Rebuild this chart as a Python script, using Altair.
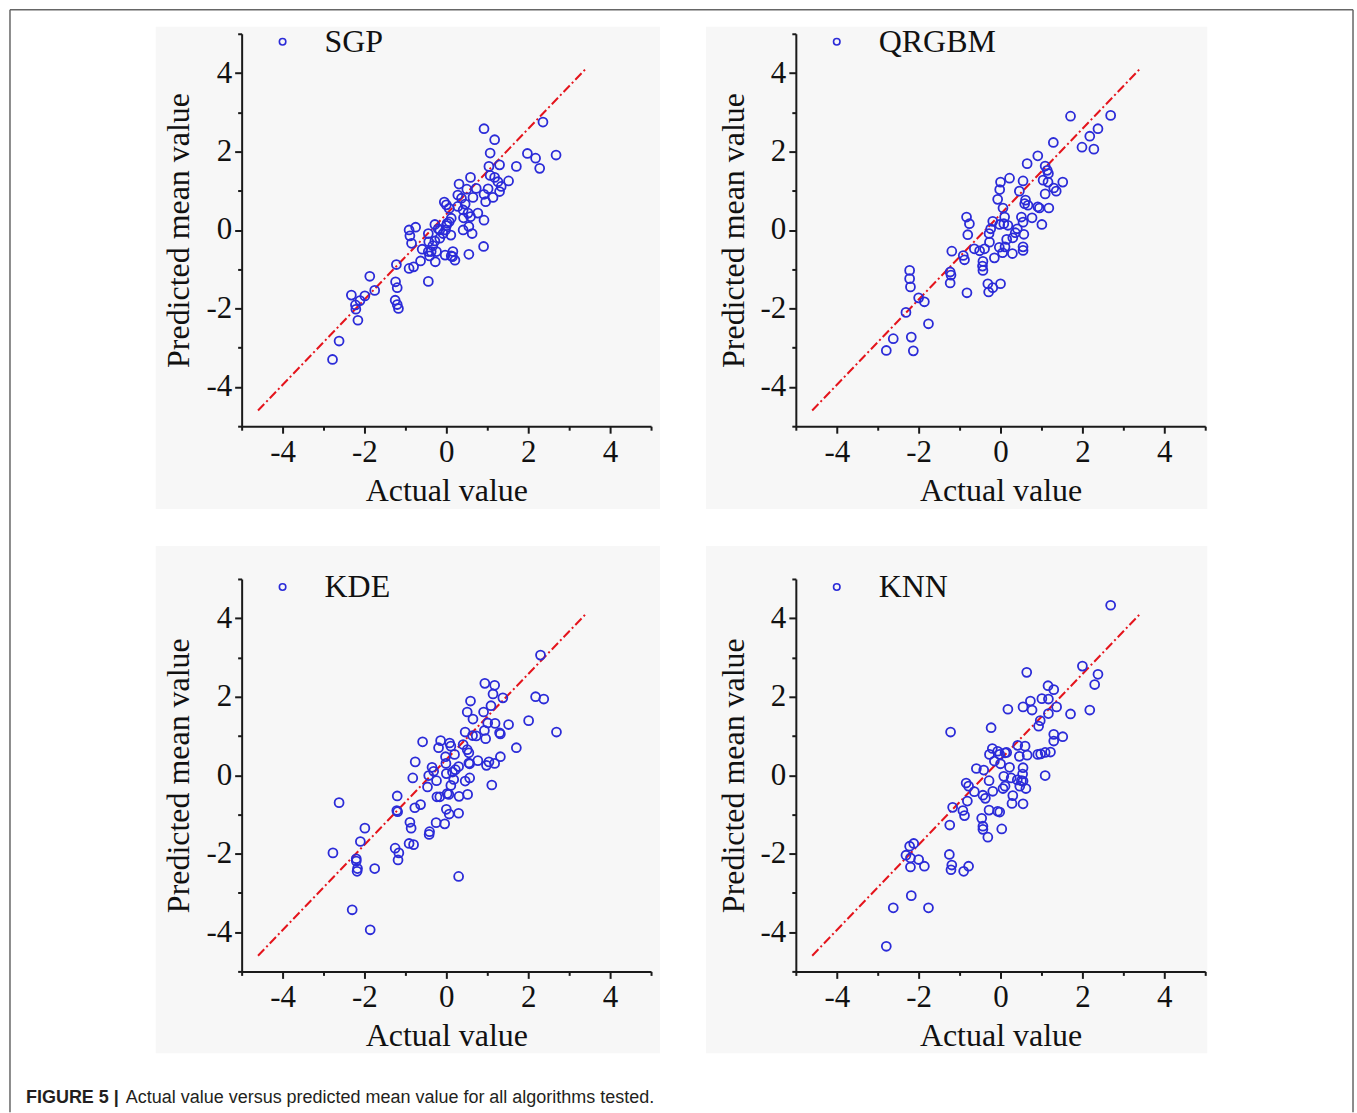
import altair as alt
import pandas as pd

# ---------------- data ----------------
SGP_X = [-2.78, -2.62, -2.16, -2.32, -2.22, -2.21, -2.11, -1.99, -1.87, -1.75,
         -1.22, -1.24, -1.20, -1.25, -1.20, -1.17, -0.91, -0.89, -0.75, -0.85,
         -0.91, -0.80, -0.63, -0.59, -0.44, -0.44, -0.43, -0.44, -0.37, -0.33,
         -0.28, -0.27, -0.24, -0.20, -0.16, -0.08, -0.03, -0.05, 0.00, 0.02,
         0.07, 0.11, 0.12, 0.16, 0.15, 0.21, 0.07, 0.28, 0.31, 0.28,
         0.37, 0.41, 0.42, 0.41, 0.46, 0.50, 0.53, 0.55, 0.55, 0.59,
         0.59, 0.63, 0.65, 0.73, 0.77, 0.92, 0.92, 0.96, 0.92, 0.91,
         1.02, 1.04, 1.07, 1.07, 1.14, 1.18, 1.18, 1.26, 1.30, 1.30,
         1.34, 1.52, 1.71, 1.98, 2.18, 2.28, 2.36, 2.68, 0.00, -0.02,
         -0.16, -0.28, -0.41, 0.12]
SGP_Y = [-3.30, -2.83, -2.30, -1.66, -1.91, -2.02, -1.80, -1.68, -1.18, -1.54,
         -0.88, -1.32, -1.47, -1.79, -1.90, -2.00, 0.00, -0.15, 0.07, -0.34,
         -0.98, -0.94, -0.79, -0.49, -1.31, -0.09, -0.30, -0.55, -0.55, -0.40,
         0.14, -0.81, -0.55, 0.03, -0.21, -0.09, -0.64, 0.71, 0.64, 0.17,
         0.21, -0.13, 0.30, -0.55, -0.68, -0.77, 0.55, 0.60, 1.17, 0.89,
         0.81, 0.51, 0.31, 0.00, 0.66, 1.04, 0.43, 0.09, -0.62, 1.34,
         0.34, -0.09, 0.83, 1.06, 0.43, 2.58, 0.91, 0.72, 0.25, -0.42,
         1.05, 1.62, 1.96, 1.39, 0.83, 2.30, 1.34, 1.23, 1.66, 0.98,
         1.11, 1.25, 1.62, 1.95, 1.83, 1.57, 2.75, 1.91, 0.11, 0.00,
         0.00, -0.28, -0.66, -0.66]

QRGBM_X = [1.71, 2.69, 2.38, 2.18, 1.99, 2.28, 1.29, 0.91, 0.65, 1.09,
           1.14, 1.17, 1.04, 1.16, 1.52, 1.30, 1.36, 1.09, 0.22, 0.00,
           0.55, -0.02, 0.46, -0.07, 0.61, 0.59, 0.67, 0.91, 0.95, 1.18,
           0.06, 0.77, 1.01, 0.51, 0.55, 0.10, 0.08, 0.18, -0.02, -0.19,
           -0.24, -0.28, 0.41, 0.36, 0.57, 0.30, 0.15, -0.03, 0.11, 0.55,
           0.55, 0.29, 0.05, -0.15, -0.27, -0.64, -0.51, -0.39, -0.43, -0.44,
           -0.43, -0.91, -0.88, -0.83, -0.76, -0.80, -1.19, -1.23, -1.21, -1.23,
           -0.82, -0.31, -0.29, -0.19, 0.00, -2.22, -2.22, -2.20, -2.00, -1.86,
           -2.31, -1.76, -2.62, -2.18, -2.79, -2.13]
QRGBM_Y = [2.90, 2.92, 2.58, 2.39, 2.11, 2.06, 2.23, 1.89, 1.69, 1.63,
           1.52, 1.44, 1.27, 1.22, 1.22, 1.07, 0.99, 0.92, 1.32, 1.22,
           1.25, 1.03, 0.99, 0.78, 0.76, 0.67, 0.63, 0.59, 0.56, 0.56,
           0.56, 0.31, 0.14, 0.33, 0.20, 0.33, 0.16, 0.12, 0.14, 0.22,
           0.03, -0.09, 0.03, -0.07, -0.11, -0.20, -0.24, -0.44, -0.43, -0.43,
           -0.52, -0.60, -0.58, -0.71, -0.31, -0.48, -0.53, -0.48, -0.80, -0.92,
           -1.03, -0.65, -0.76, 0.33, 0.16, -0.12, -0.54, -1.07, -1.15, -1.35,
           -1.60, -1.37, -1.58, -1.47, -1.37, -1.03, -1.24, -1.45, -1.73, -1.83,
           -2.10, -2.39, -2.77, -2.73, -3.07, -3.08]

KDE_X = [2.30, 0.94, 1.18, 1.14, 1.38, 2.18, 2.38, 0.59, 1.09, 0.51,
         0.91, 0.65, 1.01, 1.19, 1.52, 2.01, 2.69, 0.46, 0.64, 0.73,
         0.93, 0.96, 1.30, 1.32, 1.71, -0.58, -0.14, 0.08, 0.11, -0.19,
         0.41, 0.51, 0.55, 0.20, -0.02, -0.76, 0.77, 0.55, 0.57, 1.04,
         1.18, 0.98, 1.32, -0.35, -0.31, -0.43, -0.01, 0.30, 0.22, 0.15,
         0.00, -0.82, -0.46, -0.24, 0.18, 0.11, 0.57, 0.46, 1.11, -0.23,
         -0.16, 0.02, 0.06, 0.31, 0.52, -1.20, -1.21, -1.19, -0.63, -0.77,
         0.00, 0.07, 0.30, -0.25, -0.04, -0.89, -0.86, -0.41, -0.42, -0.91,
         -0.80, -1.25, -1.16, -1.18, -2.62, -1.99, -2.10, -2.77, -2.20, -2.20,
         -2.17, -2.18, -1.75, 0.30, -2.30, -1.86]
KDE_Y = [3.06, 2.34, 2.29, 2.07, 1.97, 2.00, 1.94, 1.89, 1.77, 1.61,
         1.61, 1.43, 1.33, 1.32, 1.29, 1.39, 1.10, 1.10, 1.01, 1.00,
         1.14, 0.93, 1.08, 1.05, 0.70, 0.85, 0.88, 0.82, 0.74, 0.70,
         0.78, 0.65, 0.57, 0.53, 0.47, 0.34, 0.37, 0.31, 0.29, 0.34,
         0.30, 0.25, 0.47, 0.20, 0.10, -0.01, 0.30, 0.22, 0.14, 0.08,
         0.04, -0.07, -0.30, -0.14, -0.11, -0.26, -0.07, -0.15, -0.25, -0.55,
         -0.55, -0.47, -0.49, -0.54, -0.49, -0.53, -0.90, -0.93, -0.75, -0.83,
         -0.87, -0.99, -0.97, -1.21, -1.24, -1.20, -1.35, -1.44, -1.51, -1.74,
         -1.77, -1.86, -1.98, -2.16, -0.70, -1.35, -1.69, -1.98, -2.13, -2.19,
         -2.38, -2.45, -2.38, -2.58, -3.43, -3.94]

KNN_X = [2.69, 0.64, 2.00, 2.38, 2.30, 2.18, 1.71, 1.16, 1.30, 1.01,
         1.17, 0.73, 0.55, 0.77, 1.37, 0.18, 1.17, 0.97, 0.93, -1.22,
         -0.23, 1.30, 1.52, 1.30, -0.20, -0.27, -0.07, -0.02, 0.11, 0.15,
         -0.15, 0.00, 0.42, 0.60, 0.46, 0.65, 0.91, 0.98, 1.09, 1.22,
         1.09, -0.59, -0.41, 0.22, 0.55, 0.54, 0.08, 0.26, 0.41, 0.51,
         0.55, 0.47, 0.62, 0.06, 0.11, -0.28, -0.84, -0.78, -0.64, -0.81,
         -0.43, -0.37, -0.19, 0.30, 0.28, 0.55, -0.28, -0.07, -0.02, -1.17,
         -0.92, -0.88, -1.24, -0.46, -0.43, -0.43, -0.31, 0.03, -2.22, -2.12,
         -2.31, -2.20, -2.00, -1.86, -2.20, -1.25, -1.19, -1.21, -0.90, -0.78,
         -2.18, -2.62, -1.76, -2.79]
KNN_Y = [4.33, 2.62, 2.78, 2.57, 2.31, 1.66, 1.56, 2.28, 2.18, 1.95,
         1.94, 1.89, 1.74, 1.66, 1.74, 1.68, 1.57, 1.39, 1.25, 1.10,
         1.21, 1.04, 0.98, 0.87, 0.68, 0.53, 0.61, 0.53, 0.57, 0.58,
         0.36, 0.29, 0.76, 0.74, 0.48, 0.51, 0.53, 0.54, 0.58, 0.59,
         -0.01, 0.17, 0.13, 0.20, 0.19, 0.03, -0.03, -0.07, -0.12, -0.14,
         -0.15, -0.28, -0.34, -0.34, -0.28, -0.14, -0.20, -0.28, -0.42, -0.66,
         -0.51, -0.59, -0.41, -0.52, -0.72, -0.73, -0.89, -0.92, -0.94, -0.82,
         -0.90, -1.03, -1.27, -1.10, -1.30, -1.38, -1.58, -1.37, -1.81, -1.74,
         -2.04, -2.11, -2.15, -2.32, -2.34, -2.02, -2.29, -2.41, -2.45, -2.32,
         -3.07, -3.38, -3.38, -4.36]

MODELS = ["SGP", "QRGBM", "KDE", "KNN"]
LINE_X = [-4.6, 3.4]
LINE_Y = [-4.6, 4.1]
TICKS = [-5, -4, -3, -2, -1, 0, 1, 2, 3, 4, 5]
X_TITLE = "Actual value"
Y_TITLE = "Predicted mean value"
CAPTION_BOLD = "FIGURE 5 |"
CAPTION_TEXT = "Actual value versus predicted mean value for all algorithms tested."

# ---------------- styling ----------------
BLUE = "#2b2bd8"
RED = "#e4141c"
PANEL_BG = "#f7f7f7"
SERIF = "Liberation Serif"
W, H = 410, 393

scale = alt.Scale(domain=[-5, 5], nice=False, zero=False)

def make_axis(title, is_x):
    return alt.Axis(
        values=TICKS,
        labelExpr="datum.value % 2 === 0 ? '' + datum.value : ''",
        tickSize={"condition": {"test": "datum.value % 2 === 0", "value": 7}, "value": 4},
        tickColor="#1a1a1a", tickWidth=2,
        domainColor="#1a1a1a", domainWidth=2,
        grid=False,
        labelFont=SERIF, labelFontSize=31, labelColor="#111111",
        labelPadding=4 if is_x else 3,
        labelOverlap=False, labelFlush=False,
        title=title, titleFont=SERIF, titleFontSize=32,
        titleFontWeight="normal", titleColor="#111111",
        titlePadding=8 if is_x else 10,
        zindex=1,
    )

XAXIS = make_axis(X_TITLE, True)
YAXIS = make_axis(Y_TITLE, False)


def one():
    return pd.DataFrame({"k": [0]})


def panel(name, xs, ys, box, extras=()):
    df = pd.DataFrame({"x": xs, "y": ys, "model": [name] * len(xs)})
    bg = alt.Chart(one()).mark_rect(color=PANEL_BG).encode(
        x=alt.value(box[0]), x2=alt.value(box[1]),
        y=alt.value(box[2]), y2=alt.value(box[3]))
    line = alt.Chart(pd.DataFrame({"x": LINE_X, "y": LINE_Y})).mark_line(
        color=RED, strokeDash=[9, 3, 2, 3], strokeWidth=2).encode(
        x=alt.X("x:Q", scale=scale, axis=XAXIS),
        y=alt.Y("y:Q", scale=scale, axis=YAXIS))
    pts = alt.Chart(df).mark_point(
        shape="circle", filled=False, size=80, strokeWidth=1.8, opacity=1).encode(
        x=alt.X("x:Q", scale=scale, axis=XAXIS),
        y=alt.Y("y:Q", scale=scale, axis=YAXIS),
        color=alt.Color("model:N", scale=alt.Scale(domain=[name], range=[BLUE]),
                        legend=alt.Legend(
                            orient="none", legendX=25, legendY=-8,
                            title=None, symbolType="circle", symbolSize=42,
                            symbolStrokeWidth=1.6, symbolFillColor="transparent",
                            symbolStrokeColor=BLUE, labelFont=SERIF,
                            labelFontSize=32, labelColor="#111111",
                            labelOffset=26, padding=0)))
    return alt.layer(bg, line, pts, *extras).properties(width=W, height=H)


# decorations: outer frame (panel 1) and caption (panel 3)
frame_left = alt.Chart(one()).mark_rule(color="#666666", strokeWidth=1.5).encode(
    x=alt.value(-232), y=alt.value(-24), y2=alt.value(1080))
frame_top = alt.Chart(one()).mark_rule(color="#666666", strokeWidth=1.5).encode(
    x=alt.value(-232), x2=alt.value(1113), y=alt.value(-24))
frame_right = alt.Chart(one()).mark_rule(color="#666666", strokeWidth=1.5).encode(
    x=alt.value(1113), y=alt.value(-24), y2=alt.value(1080))

cap_bold = alt.Chart(pd.DataFrame({"t": [CAPTION_BOLD]})).mark_text(
    align="left", baseline="middle", font="Liberation Sans", fontSize=18,
    fontWeight="bold", color="#231f20").encode(
    x=alt.value(-216), y=alt.value(520), text="t:N")
cap_text = alt.Chart(pd.DataFrame({"t": [CAPTION_TEXT]})).mark_text(
    align="left", baseline="middle", font="Liberation Sans", fontSize=18,
    color="#231f20").encode(
    x=alt.value(-116), y=alt.value(520), text="t:N")

p1 = panel(MODELS[0], SGP_X, SGP_Y, (-86, 419, -7, 476),
           extras=(frame_left, frame_top, frame_right))
p2 = panel(MODELS[1], QRGBM_X, QRGBM_Y, (-90, 412, -7, 476))
p3 = panel(MODELS[2], KDE_X, KDE_Y, (-86, 419, -33, 475),
           extras=(cap_bold, cap_text))
p4 = panel(MODELS[3], KNN_X, KNN_Y, (-90, 412, -33, 475))

chart = alt.concat(
    p1, p2, p3, p4, columns=2,
    spacing={"row": 153, "column": 145}, bounds="flush",
).resolve_scale(color="independent").resolve_legend(color="independent").properties(
    padding={"left": 8, "top": 7, "right": 2, "bottom": 0},
    background="white",
).configure_view(stroke="transparent")

chart.save("out.html", embed_options={"renderer": "svg", "actions": False})
